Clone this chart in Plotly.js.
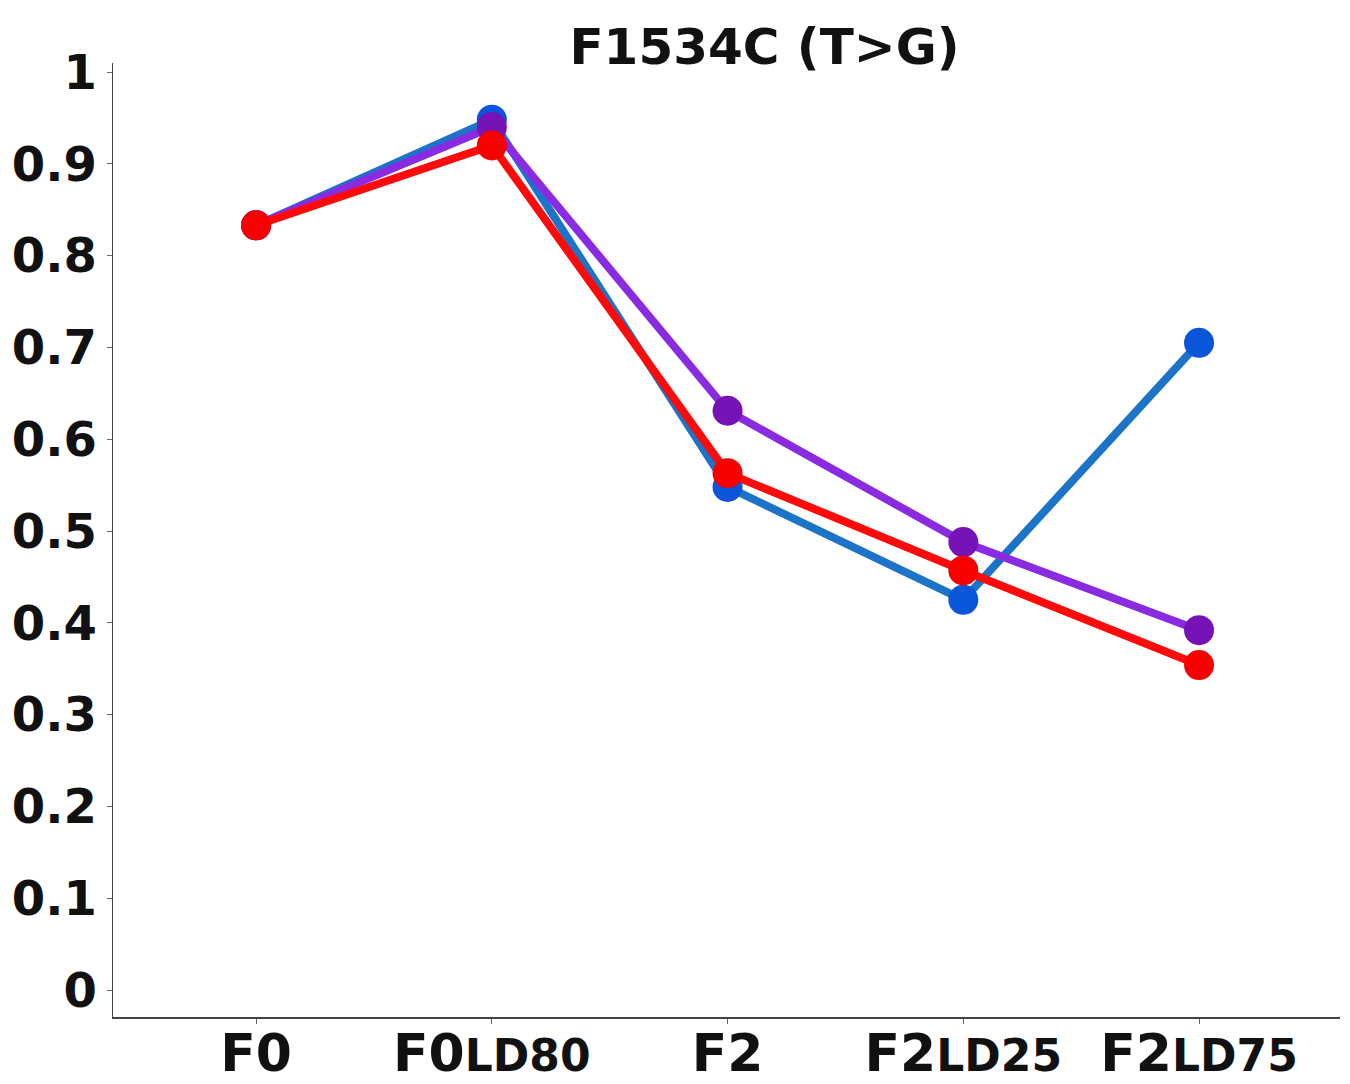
<!DOCTYPE html>
<html>
<head>
<meta charset="utf-8">
<script src="https://cdn.plot.ly/plotly-3.0.1.min.js"></script>
<style>html,body{margin:0;padding:0;background:#fff;}#chart{width:1350px;height:1084px;}</style>
</head>
<body>
<div id="chart"></div>
<script>
const categories = ["F0", "F0LD80", "F2", "F2LD25", "F2LD75"];
const tickLabels = [
  "F0",
  "F0<span style='font-size:44px'>LD80</span>",
  "F2",
  "F2<span style='font-size:44px'>LD25</span>",
  "F2<span style='font-size:44px'>LD75</span>"
];
const blueValues   = [0.833, 0.948, 0.548, 0.425, 0.705];
const purpleValues = [0.833, 0.940, 0.631, 0.488, 0.392];
const redValues    = [0.833, 0.920, 0.563, 0.457, 0.354];
const yTickVals = [0, 0.1, 0.2, 0.3, 0.4, 0.5, 0.6, 0.7, 0.8, 0.9, 1];
const yTickText = ["0", "0.1", "0.2", "0.3", "0.4", "0.5", "0.6", "0.7", "0.8", "0.9", "1"];

const xIdx = categories.map((c, i) => i);
function series(vals, lineColor, markerColor, name) {
  return {
    x: xIdx, y: vals, name: name, type: "scatter", mode: "lines+markers",
    line: {color: lineColor, width: 8},
    marker: {color: markerColor, size: 30},
    hoverinfo: "x+y"
  };
}
const data = [
  series(blueValues, "#1b74c8", "#0a55d8", "blue"),
  series(purpleValues, "#8a2be2", "#7612b6", "purple"),
  series(redValues, "#ff0a0a", "#f80000", "red")
];
const layout = {
  width: 1350, height: 1084,
  paper_bgcolor: "#fff", plot_bgcolor: "#fff",
  showlegend: false,
  margin: {l: 113, r: 10, t: 63, b: 67},
  font: {family: "DejaVu Sans", color: "#111"},
  title: {
    text: "<b>F1534C (T>G)</b>",
    font: {family: "DejaVu Sans", size: 50, color: "#111"},
    x: 0.531, xref: "paper", xanchor: "center",
    y: 0.957, yref: "container", yanchor: "middle"
  },
  xaxis: {
    range: [-0.607, 4.598],
    tickmode: "array", tickvals: xIdx, ticktext: tickLabels.map(t => "<b>" + t + "</b>"),
    tickfont: {family: "DejaVu Sans", size: 52, color: "#111"},
    ticklabelstandoff: -15,
    showgrid: false, zeroline: false,
    showline: true, linecolor: "#444", linewidth: 1.5,
    ticks: "outside", ticklen: 5, tickcolor: "#666", tickwidth: 1
  },
  yaxis: {
    range: [-0.0294, 1.0098],
    tickmode: "array", tickvals: yTickVals, ticktext: yTickText.map(t => "<b>" + t + "</b>"),
    tickfont: {family: "DejaVu Sans", size: 48, color: "#111"},
    showgrid: false, zeroline: false,
    showline: true, linecolor: "#444", linewidth: 1.5,
    ticks: "outside", ticklen: 5, tickcolor: "#666", tickwidth: 1
  }
};
Plotly.newPlot("chart", data, layout, {displayModeBar: false, staticPlot: true});
</script>
</body>
</html>
